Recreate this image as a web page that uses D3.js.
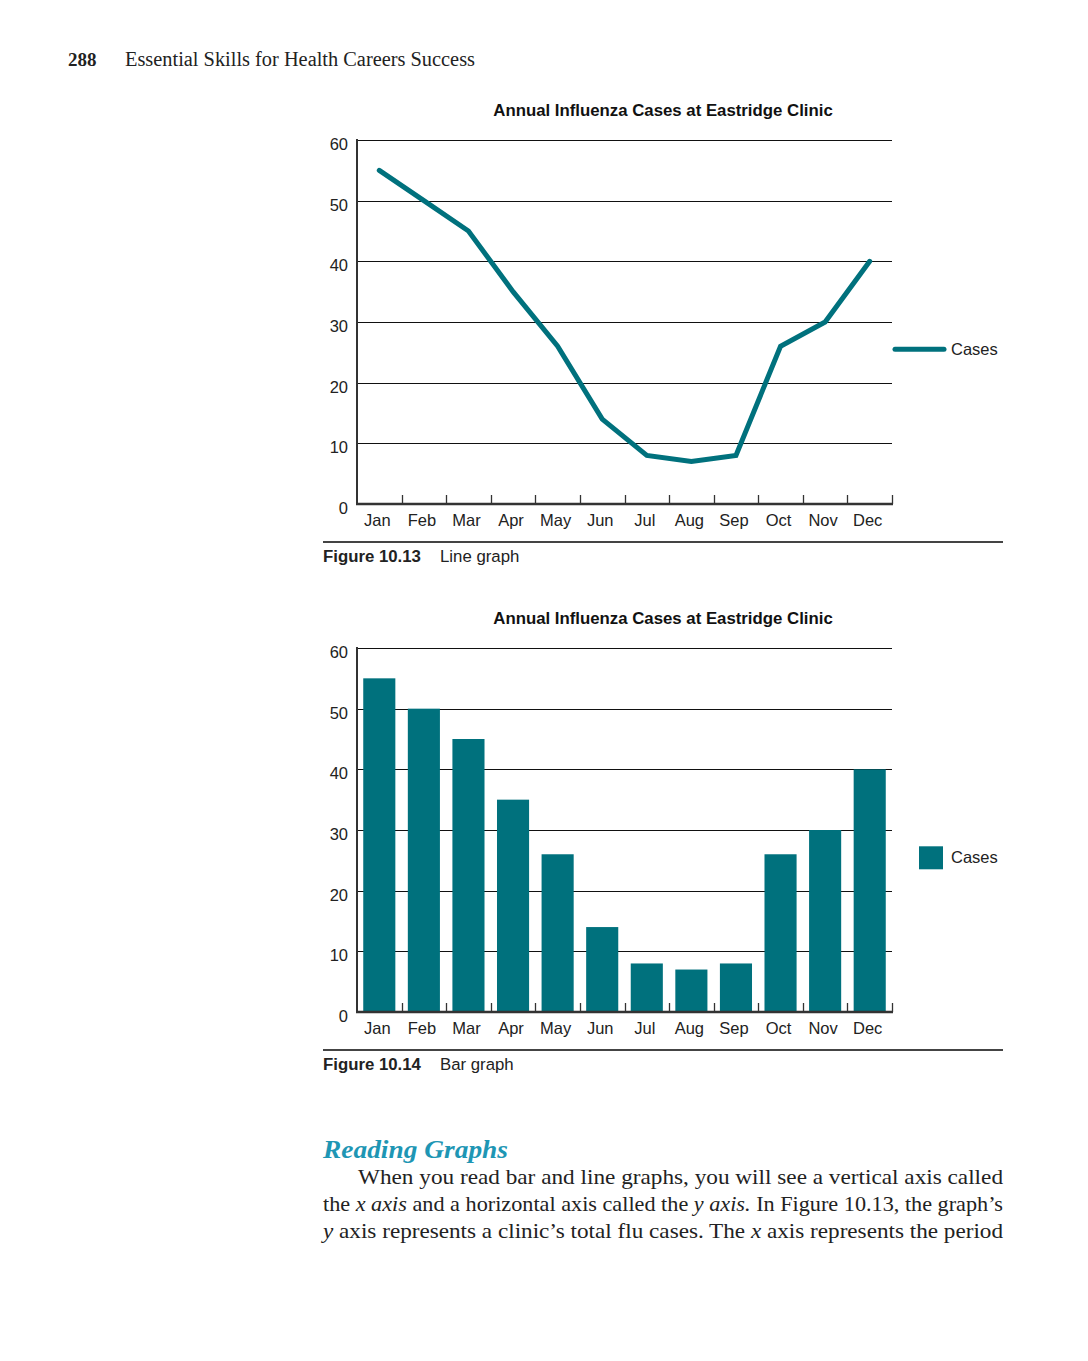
<!DOCTYPE html>
<html>
<head>
<meta charset="utf-8">
<script src="https://cdn.jsdelivr.net/npm/d3@7"></script>
<style>
  html, body { margin: 0; padding: 0; background: #fff; }
  svg { display: block; }
</style>
</head>
<body>
<div id="page"></div>
<script>
// Chart data
const months = ['Jan', 'Feb', 'Mar', 'Apr', 'May', 'Jun', 'Jul', 'Aug', 'Sep', 'Oct', 'Nov', 'Dec'];
const cases = [55, 50, 45, 35, 26, 14, 8, 7, 8, 26, 30, 40];
const yTicks = [0, 10, 20, 30, 40, 50, 60];
const chartTitle = 'Annual Influenza Cases at Eastridge Clinic';
const seriesName = 'Cases';

const TEAL = '#00717d';
const SANS = '"Liberation Sans", Arial, Helvetica, sans-serif';
const SERIF = '"Liberation Serif", "DejaVu Serif", serif';

const W = 1088;
const H = 1361;

const svg = d3.select('#page').append('svg')
  .attr('width', W)
  .attr('height', H);

// Page header
svg.append('text')
  .attr('x', 68)
  .attr('y', 66)
  .style('font-family', SERIF)
  .style('font-size', '19px')
  .style('font-weight', 'bold')
  .style('fill', '#222')
  .text('288');
svg.append('text')
  .attr('x', 125)
  .attr('y', 66)
  .attr('textLength', 350)
  .attr('lengthAdjust', 'spacingAndGlyphs')
  .style('font-family', SERIF)
  .style('font-size', '20px')
  .style('fill', '#222')
  .text('Essential Skills for Health Careers Success');

/**
 * Draw one figure (line or bar) with its axes, legend and caption.
 * top is the pixel y of the 60 gridline.
 */
function drawFigure(top, kind, figLabel, figName) {
  const left = 357;
  const right = 892;
  const bottom = top + 364;

  const x = d3.scaleBand()
    .domain(months)
    .range([left, right])
    .paddingInner(0.28)
    .paddingOuter(0.14);

  const xEdge = d3.scaleLinear()
    .domain([0, months.length])
    .range([left, right]);

  const y = d3.scaleLinear()
    .domain([0, 60])
    .range([bottom, top]);

  const g = svg.append('g');

  // Title
  g.append('text')
    .attr('x', 663)
    .attr('y', top - 24)
    .attr('text-anchor', 'middle')
    .style('font-family', SANS)
    .style('font-weight', 'bold')
    .style('font-size', '16.8px')
    .style('fill', '#111')
    .text(chartTitle);

  // Horizontal gridlines
  g.selectAll('line.grid')
    .data(yTicks.filter(d => d > 0))
    .enter().append('line')
    .attr('class', 'grid')
    .attr('x1', left)
    .attr('x2', right)
    .attr('y1', d => Math.round(y(d)) + 0.5)
    .attr('y2', d => Math.round(y(d)) + 0.5)
    .style('stroke', '#111')
    .style('stroke-width', 1);

  // Marks
  if (kind === 'line') {
    const line = d3.line()
      .x((d, i) => x(months[i]) + x.bandwidth() / 2)
      .y(d => y(d));

    g.append('path')
      .datum(cases)
      .attr('d', line)
      .style('fill', 'none')
      .style('stroke', TEAL)
      .style('stroke-width', 5)
      .style('stroke-linejoin', 'miter')
      .style('stroke-linecap', 'round');
  } else {
    g.selectAll('rect.bar')
      .data(cases)
      .enter().append('rect')
      .attr('class', 'bar')
      .attr('x', (d, i) => x(months[i]))
      .attr('y', d => y(d))
      .attr('width', x.bandwidth())
      .attr('height', d => bottom - y(d))
      .style('fill', TEAL);
  }

  // Y axis line
  g.append('line')
    .attr('x1', left)
    .attr('x2', left)
    .attr('y1', top - 1)
    .attr('y2', bottom + 1)
    .style('stroke', '#333')
    .style('stroke-width', 2);

  // X axis baseline
  g.append('line')
    .attr('x1', left - 1)
    .attr('x2', right + 1)
    .attr('y1', bottom)
    .attr('y2', bottom)
    .style('stroke', '#333')
    .style('stroke-width', 2.5);

  // Band boundary ticks (pointing up)
  g.selectAll('line.tick')
    .data(d3.range(1, months.length + 1))
    .enter().append('line')
    .attr('class', 'tick')
    .attr('x1', d => Math.round(xEdge(d)) + 0.5)
    .attr('x2', d => Math.round(xEdge(d)) + 0.5)
    .attr('y1', bottom)
    .attr('y2', bottom - 9)
    .style('stroke', '#333')
    .style('stroke-width', 1.3);

  // Y tick labels
  g.selectAll('text.ylab')
    .data(yTicks)
    .enter().append('text')
    .attr('class', 'ylab')
    .attr('x', 348)
    .attr('y', d => y(d) + 10)
    .attr('text-anchor', 'end')
    .style('font-family', SANS)
    .style('font-size', '16.5px')
    .style('fill', '#222')
    .text(d => d);

  // X tick labels
  g.selectAll('text.xlab')
    .data(months)
    .enter().append('text')
    .attr('class', 'xlab')
    .attr('x', d => x(d) + x.bandwidth() / 2 - 2)
    .attr('y', bottom + 22)
    .attr('text-anchor', 'middle')
    .style('font-family', SANS)
    .style('font-size', '16.5px')
    .style('fill', '#222')
    .text(d => d);

  // Legend
  const legY = y(25.5);
  if (kind === 'line') {
    g.append('line')
      .attr('x1', 895)
      .attr('x2', 944)
      .attr('y1', legY)
      .attr('y2', legY)
      .style('stroke', TEAL)
      .style('stroke-width', 5)
      .style('stroke-linecap', 'round');
  } else {
    g.append('rect')
      .attr('x', 919)
      .attr('y', legY - 11)
      .attr('width', 24)
      .attr('height', 23)
      .style('fill', TEAL);
  }
  g.append('text')
    .attr('x', 951)
    .attr('y', legY + 6)
    .style('font-family', SANS)
    .style('font-size', '16.5px')
    .style('fill', '#222')
    .text(seriesName);

  // Divider rule and caption
  g.append('line')
    .attr('x1', 323)
    .attr('x2', 1003)
    .attr('y1', bottom + 38)
    .attr('y2', bottom + 38)
    .style('stroke', '#444')
    .style('stroke-width', 2);

  const cap = g.append('text')
    .attr('x', 323)
    .attr('y', bottom + 58)
    .style('font-family', SANS)
    .style('font-size', '16.8px')
    .style('fill', '#222');
  cap.append('tspan').style('font-weight', 'bold').text(figLabel);
  cap.append('tspan').attr('x', 440).text(figName);
}

drawFigure(140, 'line', 'Figure 10.13', 'Line graph');
drawFigure(648, 'bar', 'Figure 10.14', 'Bar graph');

// Section heading and body text
svg.append('text')
  .attr('x', 323)
  .attr('y', 1158)
  .attr('textLength', 185)
  .attr('lengthAdjust', 'spacingAndGlyphs')
  .style('font-family', SERIF)
  .style('font-size', '25px')
  .style('font-style', 'italic')
  .style('font-weight', 'bold')
  .style('fill', '#1e96b4')
  .text('Reading Graphs');

const bodyLines = [
  { x: 358, parts: [['When you read bar and line graphs, you will see a vertical axis called', false]] },
  { x: 323, parts: [['the ', false], ['x axis', true], [' and a horizontal axis called the ', false], ['y axis.', true], [' In Figure 10.13, the graph\u2019s', false]] },
  { x: 323, parts: [['y', true], [' axis represents a clinic\u2019s total flu cases. The ', false], ['x', true], [' axis represents the period', false]] }
];

bodyLines.forEach((ln, i) => {
  const t = svg.append('text')
    .attr('x', ln.x)
    .attr('y', 1184 + i * 27)
    .attr('textLength', 1003 - ln.x)
    .attr('lengthAdjust', 'spacingAndGlyphs')
    .style('font-family', SERIF)
    .style('font-size', '21.5px')
    .style('fill', '#222');
  ln.parts.forEach(p => {
    t.append('tspan')
      .style('font-style', p[1] ? 'italic' : 'normal')
      .text(p[0]);
  });
});
</script>
</body>
</html>
